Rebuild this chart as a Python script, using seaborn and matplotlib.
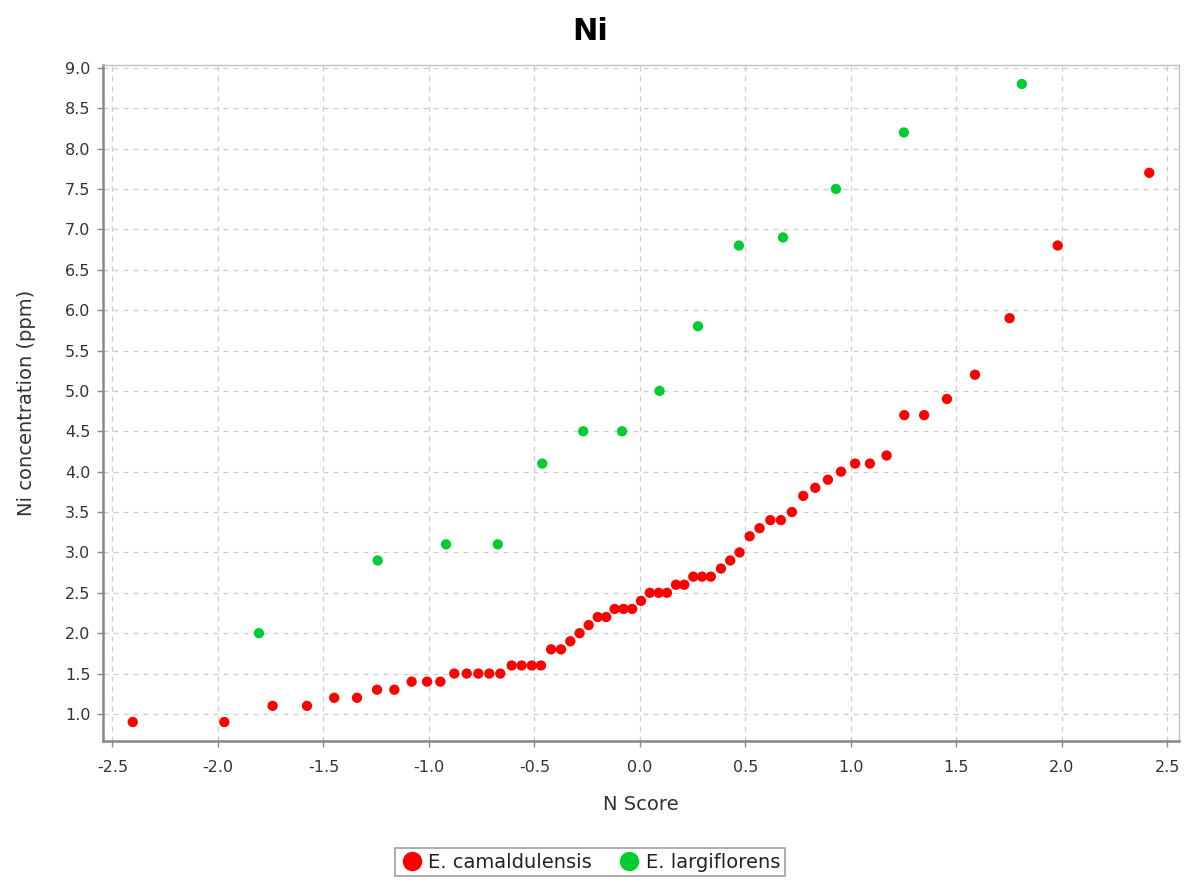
import numpy as np
import pandas as pd
import matplotlib
matplotlib.use("Agg")
import matplotlib.pyplot as plt
import seaborn as sns
from matplotlib.lines import Line2D

# ---- data ----
cam_nscore = [-2.404, -1.970, -1.741, -1.578, -1.449, -1.341, -1.246, -1.164, -1.082, -1.009,
              -0.946, -0.880, -0.821, -0.766, -0.714, -0.662, -0.608, -0.561, -0.513, -0.469,
              -0.421, -0.374, -0.330, -0.286, -0.243, -0.200, -0.160, -0.120, -0.078, -0.037,
              0.005, 0.047, 0.089, 0.128, 0.171, 0.210, 0.253, 0.294, 0.336, 0.384,
              0.428, 0.472, 0.520, 0.567, 0.618, 0.668, 0.720, 0.774, 0.831, 0.891,
              0.953, 1.020, 1.090, 1.169, 1.253, 1.347, 1.455, 1.588, 1.752, 1.980, 2.414]
cam_ni = [0.9, 0.9, 1.1, 1.1, 1.2, 1.2, 1.3, 1.3, 1.4, 1.4,
          1.4, 1.5, 1.5, 1.5, 1.5, 1.5, 1.6, 1.6, 1.6, 1.6,
          1.8, 1.8, 1.9, 2.0, 2.1, 2.2, 2.2, 2.3, 2.3, 2.3,
          2.4, 2.5, 2.5, 2.5, 2.6, 2.6, 2.7, 2.7, 2.7, 2.8,
          2.9, 3.0, 3.2, 3.3, 3.4, 3.4, 3.5, 3.7, 3.8, 3.9,
          4.0, 4.1, 4.1, 4.2, 4.7, 4.7, 4.9, 5.2, 5.9, 6.8, 7.7]
lar_nscore = [-1.806, -1.243, -0.919, -0.674, -0.463, -0.269, -0.085,
              0.093, 0.275, 0.469, 0.678, 0.929, 1.251, 1.810]
lar_ni = [2.0, 2.9, 3.1, 3.1, 4.1, 4.5, 4.5, 5.0, 5.8, 6.8, 6.9, 7.5, 8.2, 8.8]
species = ["E. camaldulensis", "E. largiflorens"]
colors = ["#FF0000", "#00CC33"]
x_ticks = [-2.5, -2.0, -1.5, -1.0, -0.5, 0.0, 0.5, 1.0, 1.5, 2.0, 2.5]
y_ticks = [1.0, 1.5, 2.0, 2.5, 3.0, 3.5, 4.0, 4.5, 5.0, 5.5, 6.0, 6.5, 7.0, 7.5, 8.0, 8.5, 9.0]

df = pd.DataFrame({
    "N Score": cam_nscore + lar_nscore,
    "Ni": cam_ni + lar_ni,
    "Species": [species[0]] * len(cam_ni) + [species[1]] * len(lar_ni),
})

sns.set_theme(style="white")
plt.rcParams['font.family'] = ['DejaVu Sans']

fig = plt.figure(figsize=(11.97, 8.85), dpi=100)
ax = fig.add_axes([103 / 1197, 1 - 741 / 885, (1179 - 103) / 1197, (741 - 65) / 885])

sns.scatterplot(data=df, x="N Score", y="Ni", hue="Species", hue_order=species,
                palette=colors, s=55, edgecolor="none", linewidth=0, ax=ax,
                legend=False, zorder=3)

ax.set_xlim(-2.545, 2.555)
ax.set_ylim(0.665, 9.035)
ax.set_xticks(x_ticks)
ax.set_xticklabels([f"{v:.1f}" for v in x_ticks])
ax.set_yticks(y_ticks)
ax.set_yticklabels([f"{v:.1f}" for v in y_ticks])
ax.grid(True, color="#cccccc", linestyle=(0, (4, 4)), linewidth=0.9)
ax.set_axisbelow(True)

for side in ["top", "right"]:
    ax.spines[side].set_color("#c0c0c0")
    ax.spines[side].set_linewidth(1.0)
for side in ["left", "bottom"]:
    ax.spines[side].set_color("#888888")
    ax.spines[side].set_linewidth(1.8)

ax.tick_params(axis="both", which="major", direction="out", length=4, width=1,
               color="#888888", labelsize=11.5, labelcolor="#333333",
               left=True, bottom=True)
ax.tick_params(axis="x", pad=10)
ax.tick_params(axis="y", pad=5)

ax.set_xlabel("N Score", fontsize=14, color="#333333", labelpad=14)
ax.set_ylabel("Ni concentration (ppm)", fontsize=14, color="#333333", labelpad=21)
fig.suptitle("Ni", x=590 / 1197, y=1 - 32 / 885, va="center", fontsize=22,
             fontweight="bold", color="black")

handles = [Line2D([0], [0], marker="o", linestyle="none", markersize=14,
                  markerfacecolor=c, markeredgecolor="none") for c in colors]
leg = fig.legend(handles, species, loc="center", bbox_to_anchor=(590 / 1197, 1 - 862 / 885),
                 ncol=2, frameon=True, fontsize=14, handletextpad=0.25,
                 columnspacing=1.3, borderpad=0.25, fancybox=False,
                 handlelength=1.2, borderaxespad=0)
leg.get_frame().set_edgecolor("#888888")
leg.get_frame().set_linewidth(1.2)
for t in leg.get_texts():
    t.set_color("#222222")

fig.savefig("out.png", dpi=100, facecolor="white")
